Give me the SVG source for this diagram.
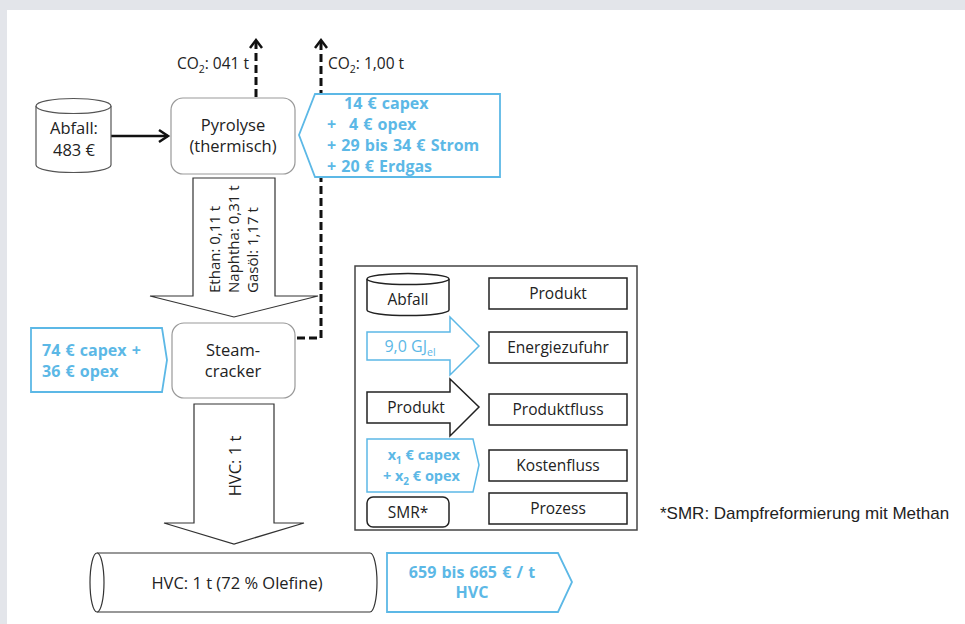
<svg xmlns="http://www.w3.org/2000/svg" width="965" height="624" viewBox="0 0 965 624">
<defs>
<style>
.t{font-family:"Open Sans","Noto Sans",sans-serif;font-size:16.5px;fill:#222;}
.c{font-family:"Open Sans","Noto Sans",sans-serif;font-size:15.5px;fill:#222;}
.r{font-family:"Open Sans","Noto Sans",sans-serif;font-size:15px;fill:#222;}
.lg{font-family:"Open Sans","Noto Sans",sans-serif;font-size:15.5px;fill:#222;}
.b{font-family:"Open Sans","Noto Sans",sans-serif;font-size:16px;font-weight:bold;fill:#5cb8e6;word-spacing:1px;}
.bs{font-family:"Open Sans","Noto Sans",sans-serif;font-size:14.5px;font-weight:bold;fill:#5cb8e6;}
.bl{font-family:"Open Sans","Noto Sans",sans-serif;font-size:16px;fill:#5cb8e6;}
.proc{fill:#fff;stroke:#999;stroke-width:1.2;}
.cost{fill:#fff;stroke:#5cb8e6;stroke-width:1.8;}
.flow{fill:#fff;stroke:#333;stroke-width:1.2;}
.box{fill:#fff;stroke:#222;stroke-width:1.5;}
.cyl{fill:#fff;stroke:#555;stroke-width:1.2;}
.dash{fill:none;stroke:#111;stroke-width:3;stroke-dasharray:8 4;}
.solid{fill:none;stroke:#111;stroke-width:2.5;}
.head{fill:none;stroke:#111;stroke-width:2.5;stroke-linejoin:miter;}
</style>
</defs>
<rect x="0" y="0" width="965" height="624" fill="#e3e5ea"/>
<rect x="7" y="10" width="958" height="614" fill="#fff"/>

<g id="connectors">
<path class="dash" d="M256 97 V42"/>
<path class="head" d="M250 48 L256 40 L262 48"/>
<path class="dash" d="M297 338 H321 V42"/>
<path class="head" d="M315 48 L321 40 L327 48"/>
<path class="solid" d="M111 136 H168"/>
<path class="head" d="M159 130 L168 136 L159 142"/>
</g>

<g id="co2-labels">
<text class="c" x="249" y="69" text-anchor="end">CO<tspan font-size="10.5" dy="4">2</tspan><tspan dy="-4">: 041 t</tspan></text>
<text class="c" x="328" y="69">CO<tspan font-size="10.5" dy="4">2</tspan><tspan dy="-4">: 1,00 t</tspan></text>
</g>

<g id="abfall">
<path class="cyl" d="M36 106 V165 A37.5 7.5 0 0 0 111 165 V106"/>
<ellipse class="cyl" cx="73.5" cy="106" rx="37.5" ry="7.5"/>
<text class="t" x="74" y="134" text-anchor="middle">Abfall:</text>
<text class="t" x="74" y="156" text-anchor="middle">483 €</text>
</g>

<g id="pyrolyse">
<rect class="proc" x="171" y="98" width="124" height="76" rx="12"/>
<text class="t" x="233" y="131" text-anchor="middle">Pyrolyse</text>
<text class="t" x="233" y="152" text-anchor="middle">(thermisch)</text>
</g>

<g id="pyrolyse-cost">
<path class="cost" d="M315 94 H500 V177 H315 L299 135 Z"/>
<text class="b" x="344" y="109">14 € capex</text>
<text class="b" x="327" y="130">+<tspan x="349">4 € opex</tspan></text>
<text class="b" x="327" y="151">+ 29 bis 34 € Strom</text>
<text class="b" x="327" y="172">+ 20 € Erdgas</text>
</g>

<g id="feed-arrow">
<path class="flow" d="M193 178 H275 V296 H318 L234 317 L150 296 H193 Z"/>
<text class="r" transform="translate(220 293) rotate(-90)">Ethan: 0,11 t</text>
<text class="r" transform="translate(239 293) rotate(-90)">Naphtha: 0,31 t</text>
<text class="r" transform="translate(258 293) rotate(-90)">Gasöl: 1,17 t</text>
</g>

<g id="steamcracker">
<rect class="proc" x="172" y="323" width="123" height="75" rx="12"/>
<text class="t" x="233" y="356" text-anchor="middle">Steam-</text>
<text class="t" x="233" y="377" text-anchor="middle">cracker</text>
</g>

<g id="steamcracker-cost">
<path class="cost" d="M31 328 H162 L167 360 L162 392 H31 Z"/>
<text class="b" x="42" y="356">74 € capex +</text>
<text class="b" x="42" y="377">36 € opex</text>
</g>

<g id="hvc-arrow">
<path class="flow" d="M194 404 H274 V523 H304 L234 544 L164 523 H194 Z"/>
<text class="t" transform="translate(241 466) rotate(-90)" text-anchor="middle">HVC: 1 t</text>
</g>

<g id="hvc">
<path class="flow" d="M97 553 H370 A7 29.5 0 0 1 370 612 H97"/>
<ellipse class="flow" cx="97" cy="582.5" rx="7" ry="29.5"/>
<text class="t" x="237" y="589" text-anchor="middle">HVC: 1 t (72 % Olefine)</text>
</g>

<g id="result-cost">
<path class="cost" d="M387 553 H558 L572 582 L558 612 H387 Z"/>
<text class="b" x="472" y="578" text-anchor="middle">659 bis 665 € / t</text>
<text class="b" x="472" y="598" text-anchor="middle">HVC</text>
</g>

<g id="legend">
<rect x="355" y="266" width="282" height="264" fill="#fff" stroke="#444" stroke-width="1.5"/>
<g id="legend-abfall">
<path class="box" d="M367 279 V310 A41 5.5 0 0 0 449 310 V279"/>
<ellipse class="box" cx="408" cy="279" rx="41" ry="5.5"/>
<text class="lg" x="408" y="305" text-anchor="middle">Abfall</text>
</g>
<g id="legend-produkt">
<rect class="box" x="489" y="278" width="138" height="31"/>
<text class="lg" x="558" y="299" text-anchor="middle">Produkt</text>
</g>
<g id="legend-energie-arrow">
<path d="M367 332 H450 V317 L479 346 L450 375 V360 H367 Z" fill="#fff" stroke="#5cb8e6" stroke-width="1.5"/>
<text class="bl" x="410" y="352" text-anchor="middle">9,0 GJ<tspan font-size="10.5" dy="4">el</tspan></text>
</g>
<g id="legend-energiezufuhr">
<rect class="box" x="489" y="332" width="138" height="31"/>
<text class="lg" x="558" y="353" text-anchor="middle">Energiezufuhr</text>
</g>
<g id="legend-produkt-arrow">
<path d="M367 392 H450 V379 L479 407 L450 436 V423 H367 Z" fill="#fff" stroke="#222" stroke-width="1.5"/>
<text class="lg" x="416" y="413" text-anchor="middle">Produkt</text>
</g>
<g id="legend-produktfluss">
<rect class="box" x="489" y="394" width="138" height="31"/>
<text class="lg" x="558" y="415" text-anchor="middle">Produktfluss</text>
</g>
<g id="legend-cost">
<path d="M367 439 H473 L479 465 L473 492 H367 Z" fill="#fff" stroke="#5cb8e6" stroke-width="1.5"/>
<text class="bs" x="460" y="460" text-anchor="end">x<tspan font-size="10" dy="4">1</tspan><tspan dy="-4"> € capex</tspan></text>
<text class="bs" x="460" y="481" text-anchor="end">+ x<tspan font-size="10" dy="4">2</tspan><tspan dy="-4"> € opex</tspan></text>
</g>
<g id="legend-kostenfluss">
<rect class="box" x="489" y="450" width="138" height="31"/>
<text class="lg" x="558" y="471" text-anchor="middle">Kostenfluss</text>
</g>
<g id="legend-smr">
<rect class="box" x="367" y="497" width="82" height="30" rx="6"/>
<text class="lg" x="408" y="518" text-anchor="middle">SMR*</text>
</g>
<g id="legend-prozess">
<rect class="box" x="489" y="493" width="138" height="31"/>
<text class="lg" x="558" y="514" text-anchor="middle">Prozess</text>
</g>
</g>

<g id="footnote">
<text x="660" y="519" font-family="'Liberation Sans',Arial,sans-serif" font-size="17" fill="#222">*SMR: Dampfreformierung mit Methan</text>
</g>
</svg>
